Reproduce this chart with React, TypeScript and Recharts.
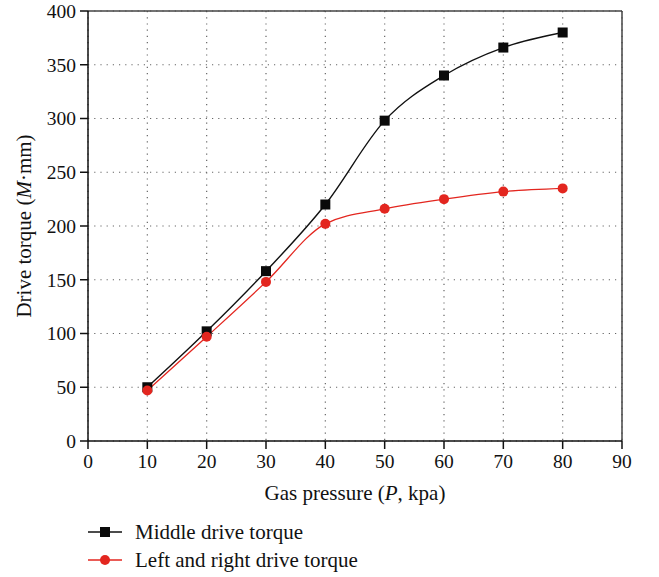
import React from 'react'
import {
  LineChart,
  Line,
  XAxis,
  YAxis,
  CartesianGrid,
  ReferenceLine,
  Label,
} from 'recharts'

// values
const pressures = [10, 20, 30, 40, 50, 60, 70, 80]
const middleTorque = [50, 102, 158, 220, 298, 340, 366, 380]
const sideTorque = [47, 97, 148, 202, 216, 225, 232, 235]

const xTicks = [0, 10, 20, 30, 40, 50, 60, 70, 80, 90]
const xMinorTicks = [5, 15, 25, 35, 45, 55, 65, 75, 85]
const yTicks = [0, 50, 100, 150, 200, 250, 300, 350, 400]
const yMinorTicks = [25, 75, 125, 175, 225, 275, 325, 375]

const seriesNames = ['Middle drive torque', 'Left and right drive torque']

const chartData = pressures.map((p, i) => ({
  p,
  middle: middleTorque[i],
  side: sideTorque[i],
}))

const FONT = '"Liberation Serif", "DejaVu Serif", serif'
const RED = '#e3261f'

const SquareDot = (props: any) => {
  const { cx, cy } = props
  if (cx == null || cy == null) return null
  return <rect x={cx - 5} y={cy - 5} width={10} height={10} fill="#0a0a0a" />
}

const tickStyle = { fill: '#111', fontFamily: FONT, fontSize: 19.5 }

export default function App() {
  return (
    <div style={{ position: 'absolute', left: 0, top: 0, width: 659, height: 577, background: '#fff' }}>
      <LineChart
        width={659}
        height={577}
        data={chartData}
        margin={{ top: 11, right: 37, left: 28, bottom: 76 }}
      >
        <CartesianGrid
          xAxisId="main"
          yAxisId="main"
          stroke="#666"
          strokeDasharray="1.2 5"
          strokeWidth={1.2}
        />
        <XAxis
          xAxisId="main"
          dataKey="p"
          type="number"
          domain={[0, 90]}
          ticks={xTicks}
          interval={0}
          height={60}
          tickSize={8}
          tickMargin={5}
          stroke="#111"
          strokeWidth={1.5}
          tick={tickStyle}
        >
          <Label
            content={({ viewBox }: any) => (
              <text
                x={viewBox.x + viewBox.width / 2}
                y={viewBox.y + 59}
                textAnchor="middle"
                fontFamily={FONT}
                fontSize={21}
                fill="#111"
              >
                Gas pressure (<tspan fontStyle="italic">P</tspan>, kpa)
              </text>
            )}
          />
        </XAxis>
        <XAxis
          xAxisId="minor"
          dataKey="p"
          type="number"
          domain={[0, 90]}
          ticks={xMinorTicks}
          interval={0}
          height={0}
          tickSize={4}
          tick={false}
          axisLine={false}
          stroke="#111"
          strokeWidth={1.5}
        />
        <YAxis
          yAxisId="main"
          type="number"
          domain={[0, 400]}
          ticks={yTicks}
          interval={0}
          width={60}
          tickSize={8}
          tickMargin={4}
          stroke="#111"
          strokeWidth={1.5}
          tick={tickStyle}
        >
          <Label
            content={({ viewBox }: any) => {
              const cx = 24
              const cy = viewBox.y + viewBox.height / 2
              return (
                <text
                  x={cx}
                  y={cy}
                  transform={`rotate(-90 ${cx} ${cy})`}
                  textAnchor="middle"
                  dominantBaseline="central"
                  fontFamily={FONT}
                  fontSize={21}
                  fill="#111"
                >
                  Drive torque (<tspan fontStyle="italic">M</tspan>·mm)
                </text>
              )
            }}
          />
        </YAxis>
        <YAxis
          yAxisId="minor"
          type="number"
          domain={[0, 400]}
          ticks={yMinorTicks}
          interval={0}
          width={0}
          tickSize={4}
          tick={false}
          axisLine={false}
          stroke="#111"
          strokeWidth={1.5}
        />
        <ReferenceLine xAxisId="main" yAxisId="main" y={400} stroke="#444" strokeWidth={1.5} />
        <ReferenceLine xAxisId="main" yAxisId="main" x={90} stroke="#444" strokeWidth={1.5} />
        <Line
          xAxisId="main"
          yAxisId="main"
          type="monotone"
          dataKey="middle"
          name={seriesNames[0]}
          stroke="#111"
          strokeWidth={1.4}
          dot={<SquareDot />}
          isAnimationActive={false}
        />
        <Line
          xAxisId="main"
          yAxisId="main"
          type="monotone"
          dataKey="side"
          name={seriesNames[1]}
          stroke={RED}
          strokeWidth={1.3}
          dot={{ r: 5, fill: RED, stroke: RED, strokeWidth: 0 }}
          isAnimationActive={false}
        />
      </LineChart>
      <svg
        width={400}
        height={60}
        style={{ position: 'absolute', left: 80, top: 515 }}
      >
        <line x1={8} x2={42} y1={17} y2={17} stroke="#111" strokeWidth={1.4} />
        <rect x={20} y={12} width={10} height={10} fill="#0a0a0a" />
        <text x={55} y={24} fontFamily={FONT} fontSize={21} fill="#111">
          {seriesNames[0]}
        </text>
        <line x1={8} x2={42} y1={45} y2={45} stroke={RED} strokeWidth={1.3} />
        <circle cx={25} cy={45} r={5} fill={RED} />
        <text x={55} y={52} fontFamily={FONT} fontSize={21} fill="#111">
          {seriesNames[1]}
        </text>
      </svg>
    </div>
  )
}
